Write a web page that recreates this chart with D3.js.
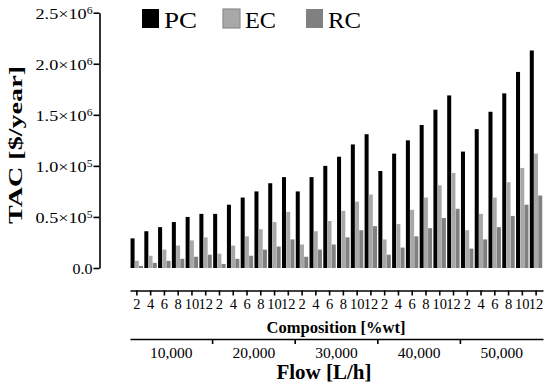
<!DOCTYPE html>
<html>
<head>
<meta charset="utf-8">
<script src="https://cdn.jsdelivr.net/npm/d3@7"></script>
<style>
  html, body { margin: 0; padding: 0; background: #fff; }
  svg { display: block; }
  text { font-family: "Liberation Serif", "Times New Roman", serif; fill: #000; }
</style>
</head>
<body>
<svg id="chart" width="550" height="385"></svg>
<script>
// ---- Data ----
const flows = ["10,000", "20,000", "30,000", "40,000", "50,000"];
const compositions = [2, 4, 6, 8, 10, 12];
const seriesNames = ["PC", "EC", "RC"];

// values in $/year, ordered flow-major (6 compositions per flow)
const pcValues = [
  290000, 360000, 400000, 450000, 500000, 530000,
  530000, 620000, 690000, 750000, 830000, 890000,
  750000, 890000, 1000000, 1090000, 1210000, 1310000,
  950000, 1120000, 1250000, 1400000, 1550000, 1690000,
  1140000, 1360000, 1530000, 1710000, 1920000, 2130000
];
const ecValues = [
  70000, 120000, 180000, 220000, 270000, 300000,
  140000, 220000, 310000, 380000, 450000, 550000,
  230000, 360000, 460000, 560000, 650000, 720000,
  280000, 430000, 570000, 690000, 810000, 930000,
  370000, 530000, 690000, 840000, 980000, 1120000
];
const rcValues = [
  20000, 50000, 70000, 90000, 110000, 130000,
  40000, 90000, 120000, 180000, 210000, 280000,
  110000, 180000, 230000, 300000, 370000, 410000,
  130000, 200000, 310000, 390000, 490000, 580000,
  190000, 280000, 400000, 510000, 620000, 710000
];

const yTickValues = [0, 500000, 1000000, 1500000, 2000000, 2500000];
const yTickMantissa = ["0.0", "0.5", "1.0", "1.5", "2.0", "2.5"];
const yTickExponent = ["", "5", "5", "6", "6", "6"];

const colors = { PC: "#000000", EC: "#a8a8a8", RC: "#808080" };

// ---- Build table ----
const cats = [];
flows.forEach((f, fi) => compositions.forEach((c, ci) => cats.push({ key: fi + "-" + ci, flow: f, comp: c, idx: fi * 6 + ci })));
const seriesValues = { PC: pcValues, EC: ecValues, RC: rcValues };

const svg = d3.select("#chart");

// ---- Scales ----
const x0 = d3.scaleBand().domain(cats.map(d => d.key)).range([130, 543]).paddingInner(0.08).paddingOuter(0.04);
const x1 = d3.scaleBand().domain(seriesNames).range([0, x0.bandwidth()]).padding(0);
const y = d3.scaleLinear().domain([0, 2500000]).range([268, 12.7]);
const xFlow = d3.scaleBand().domain(flows).range([130, 543]);

// ---- Bars ----
const gBars = svg.append("g");
cats.forEach(c => {
  seriesNames.forEach(s => {
    const v = seriesValues[s][c.idx];
    gBars.append("rect")
      .attr("x", x0(c.key) + x1(s))
      .attr("y", y(v))
      .attr("width", x1.bandwidth() - 0.2)
      .attr("height", y(0) - y(v))
      .attr("fill", colors[s]);
  });
});

// ---- Y axis ----
const yAxis = svg.append("g").attr("transform", "translate(99.5,0)")
  .call(d3.axisLeft(y).tickValues(yTickValues).tickSize(6).tickSizeOuter(0).tickFormat(""));
yAxis.select(".domain").attr("stroke", "#000").attr("stroke-width", 1.6);
yAxis.selectAll(".tick line").attr("stroke", "#000").attr("stroke-width", 1.6);
yAxis.selectAll(".tick").each(function(d, i) {
  const t = d3.select(this).append("text")
    .attr("x", -7).attr("dy", "0.35em")
    .attr("text-anchor", "end")
    .style("font-size", "15.5px");
  t.append("tspan").text(yTickMantissa[i]);
  if (yTickExponent[i]) {
    t.append("tspan").text("\u00d710");
    t.append("tspan").attr("dy", "-0.45em").style("font-size", "10px").text(yTickExponent[i]);
  }
  const len = yTickExponent[i] ? 57 : 20;
  t.attr("textLength", len).attr("lengthAdjust", "spacingAndGlyphs");
});

// Y axis title
svg.append("text")
  .attr("transform", "translate(22,145) rotate(-90)")
  .attr("text-anchor", "middle")
  .style("font-size", "18px").style("font-weight", "bold")
  .attr("textLength", 158).attr("lengthAdjust", "spacingAndGlyphs")
  .text("TAC [$/year]");

// ---- Composition axis ----
const xAxis = svg.append("g").attr("transform", "translate(0,290.5)")
  .call(d3.axisBottom(x0).tickSize(5).tickSizeOuter(0).tickPadding(3)
    .tickFormat(k => cats.find(c => c.key === k).comp));
xAxis.select(".domain").attr("stroke", "#000").attr("stroke-width", 1.6);
xAxis.selectAll(".tick line").attr("stroke", "#000").attr("stroke-width", 1.6);
xAxis.selectAll(".tick text").style("font-size", "14.5px").attr("fill", "#000");

svg.append("text")
  .attr("x", 336).attr("y", 333)
  .attr("text-anchor", "middle")
  .style("font-size", "16.5px").style("font-weight", "bold")
  .text("Composition [%wt]");

// ---- Flow axis ----
const flowAxis = svg.append("g").attr("transform", "translate(0,339)")
  .call(d3.axisBottom(xFlow).tickSize(0).tickSizeOuter(0).tickPadding(8));
flowAxis.select(".domain").attr("stroke", "#000").attr("stroke-width", 1.6);
flowAxis.selectAll(".tick text").style("font-size", "15.5px").attr("fill", "#000");
flowAxis.selectAll(".sep").data(flows.slice(1)).enter().append("line")
  .attr("class", "sep")
  .attr("x1", d => xFlow(d)).attr("x2", d => xFlow(d))
  .attr("y1", 0).attr("y2", 5)
  .attr("stroke", "#000").attr("stroke-width", 1.6);

svg.append("text")
  .attr("x", 324).attr("y", 379)
  .attr("text-anchor", "middle")
  .style("font-size", "21px").style("font-weight", "bold")
  .text("Flow [L/h]");

// ---- Legend ----
const legendX = [142, 223, 306];
const legend = svg.append("g");
seriesNames.forEach((s, i) => {
  legend.append("rect")
    .attr("x", legendX[i]).attr("y", 9)
    .attr("width", 17).attr("height", 19)
    .attr("fill", colors[s])
    .attr("stroke", s === "EC" ? "#8c8c8c" : colors[s])
    .attr("stroke-width", s === "EC" ? 1.2 : 0);
  legend.append("text")
    .attr("x", legendX[i] + 22).attr("y", 27.5)
    .style("font-size", "23px")
    .attr("textLength", s === "PC" ? 33 : (s === "EC" ? 31 : 33))
    .attr("lengthAdjust", "spacingAndGlyphs")
    .text(s);
});
</script>
</body>
</html>
